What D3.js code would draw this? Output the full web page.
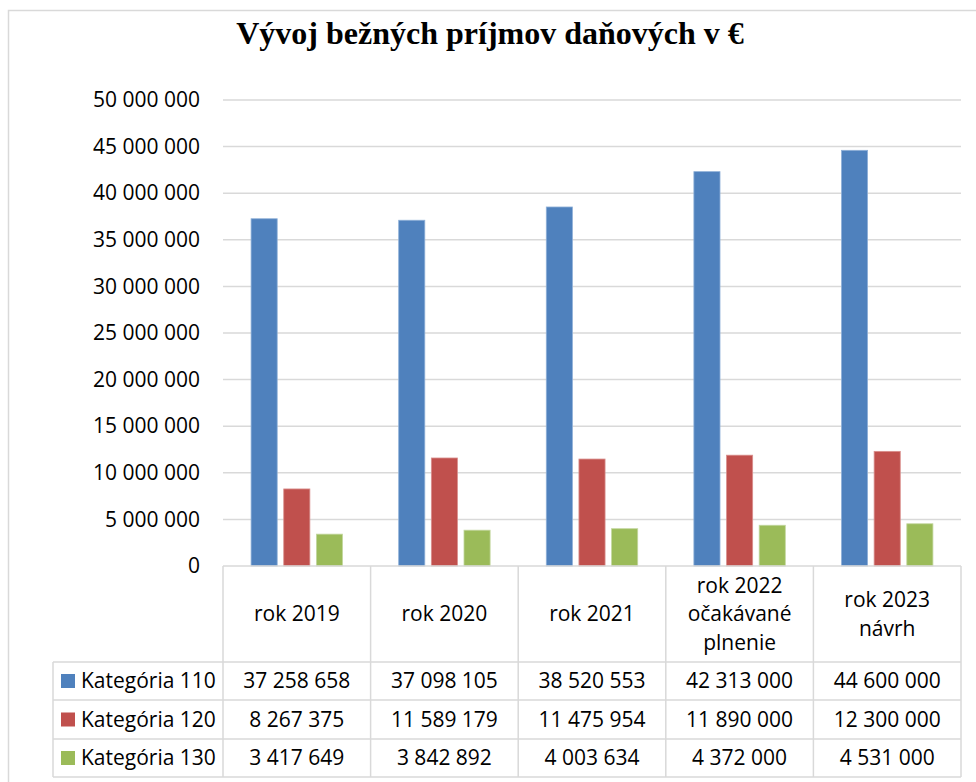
<!DOCTYPE html>
<html>
<head>
<meta charset="utf-8">
<script src="https://cdn.jsdelivr.net/npm/d3@7"></script>
<style>
  body { margin: 0; background: #fff; }
  text { font-family: "Open Sans", sans-serif; fill: #000; }
</style>
</head>
<body>
<div id="chart"></div>
<script>
const categories = [["rok 2019"], ["rok 2020"], ["rok 2021"], ["rok 2022", "očakávané", "plnenie"], ["rok 2023", "návrh"]];
const seriesNames = ["Kategória 110", "Kategória 120", "Kategória 130"];
const kat110 = [37258658, 37098105, 38520553, 42313000, 44600000];
const kat120 = [8267375, 11589179, 11475954, 11890000, 12300000];
const kat130 = [3417649, 3842892, 4003634, 4372000, 4531000];
const yTicks = [0, 5000000, 10000000, 15000000, 20000000, 25000000, 30000000, 35000000, 40000000, 45000000, 50000000];

const colors = ["#4F81BD", "#C0504D", "#9BBB59"];
const strokes = ["#8fb0d8", "#d98f8d", "#c3d79f"];
const seriesValues = [kat110, kat120, kat130];

const svgWidth = 976;
const svgHeight = 782;
const plotLeft = 223, plotRight = 961, plotTop = 100, plotBottom = 566;
const tableLeft = 53;
const rowLines = [662, 700, 739, 777];
const fontSize = "21px";

const locale = d3.formatLocale({ decimal: ",", thousands: " ", grouping: [3], currency: ["", " €"] });
const fmt = locale.format(",d");

const svg = d3.select("#chart")
    .append("svg")
    .attr("width", svgWidth)
    .attr("height", svgHeight);

// outer frame
svg.append("rect")
    .attr("x", 8.5).attr("y", 10.5)
    .attr("width", 1000).attr("height", 1000)
    .attr("fill", "none")
    .attr("stroke", "#d9d9d9")
    .attr("stroke-width", 1.5);

svg.append("text")
    .attr("x", 490)
    .attr("y", 44)
    .attr("text-anchor", "middle")
    .style("font-family", "'Liberation Serif', 'Times New Roman', serif")
    .style("font-weight", "bold")
    .style("font-size", "32px")
    .text("Vývoj bežných príjmov daňových v €");

const catIdx = d3.range(categories.length);

const xScale = d3.scaleBand()
    .domain(catIdx)
    .range([plotLeft, plotRight]);

const xSub = d3.scaleBand()
    .domain(d3.range(seriesNames.length))
    .range([0, xScale.bandwidth()])
    .paddingInner(0.2)
    .paddingOuter(0.86);

const yScale = d3.scaleLinear()
    .domain([0, 50000000])
    .range([plotBottom, plotTop]);

// gridlines
svg.append("g")
    .selectAll("line")
    .data(yTicks.filter(d => d > 0))
    .enter().append("line")
    .attr("x1", plotLeft).attr("x2", plotRight)
    .attr("y1", d => yScale(d)).attr("y2", d => yScale(d))
    .attr("stroke", "#d9d9d9")
    .attr("stroke-width", 1.5);

// y axis labels
const yAxis = d3.axisLeft(yScale)
    .tickValues(yTicks)
    .tickSize(0)
    .tickPadding(0)
    .tickFormat(fmt);

const yg = svg.append("g")
    .attr("transform", "translate(200,0)")
    .call(yAxis);
yg.select(".domain").remove();
yg.selectAll("text")
    .style("font-family", "'Open Sans', sans-serif")
    .style("font-size", fontSize)
    .attr("fill", "#000");

// bars
seriesValues.forEach(function (vals, s) {
    svg.append("g")
        .selectAll("rect")
        .data(vals)
        .enter().append("rect")
        .attr("x", (d, i) => xScale(i) + xSub(s))
        .attr("y", d => yScale(d))
        .attr("width", xSub.bandwidth())
        .attr("height", d => plotBottom - yScale(d))
        .attr("fill", colors[s])
        .attr("stroke", strokes[s])
        .attr("stroke-width", 0.8);
});

// data table
const tbl = svg.append("g")
    .attr("stroke", "#d9d9d9")
    .attr("stroke-width", 1.5);

tbl.append("line")
    .attr("x1", plotLeft).attr("x2", plotRight)
    .attr("y1", plotBottom).attr("y2", plotBottom);

rowLines.forEach(function (y) {
    tbl.append("line")
        .attr("x1", tableLeft).attr("x2", plotRight)
        .attr("y1", y).attr("y2", y);
});

tbl.append("line")
    .attr("x1", tableLeft).attr("x2", tableLeft)
    .attr("y1", rowLines[0]).attr("y2", rowLines[3]);

catIdx.concat([categories.length]).forEach(function (i) {
    const x = i < categories.length ? xScale(i) : plotRight;
    tbl.append("line")
        .attr("x1", x).attr("x2", x)
        .attr("y1", plotBottom).attr("y2", rowLines[3]);
});

// category headers
const headMid = (plotBottom + rowLines[0]) / 2;
const lineH = 28.5;
categories.forEach(function (lines, i) {
    const t = svg.append("text")
        .attr("text-anchor", "middle")
        .style("font-size", fontSize);
    lines.forEach(function (ln, k) {
        t.append("tspan")
            .attr("x", xScale(i) + xScale.bandwidth() / 2)
            .attr("y", headMid + (k - (lines.length - 1) / 2) * lineH)
            .attr("dy", "0.35em")
            .text(ln);
    });
});

// rows
seriesNames.forEach(function (name, s) {
    const yMid = (rowLines[s] + rowLines[s + 1]) / 2;
    svg.append("rect")
        .attr("x", 61).attr("y", yMid - 7)
        .attr("width", 14).attr("height", 14)
        .attr("fill", colors[s]);
    svg.append("text")
        .attr("x", 81).attr("y", yMid)
        .attr("dy", "0.35em")
        .style("font-size", fontSize)
        .text(name);
    svg.append("g")
        .selectAll("text")
        .data(seriesValues[s])
        .enter().append("text")
        .attr("x", (d, i) => xScale(i) + xScale.bandwidth() / 2)
        .attr("y", yMid)
        .attr("dy", "0.35em")
        .attr("text-anchor", "middle")
        .style("font-size", fontSize)
        .text(d => fmt(d));
});
</script>
</body>
</html>
